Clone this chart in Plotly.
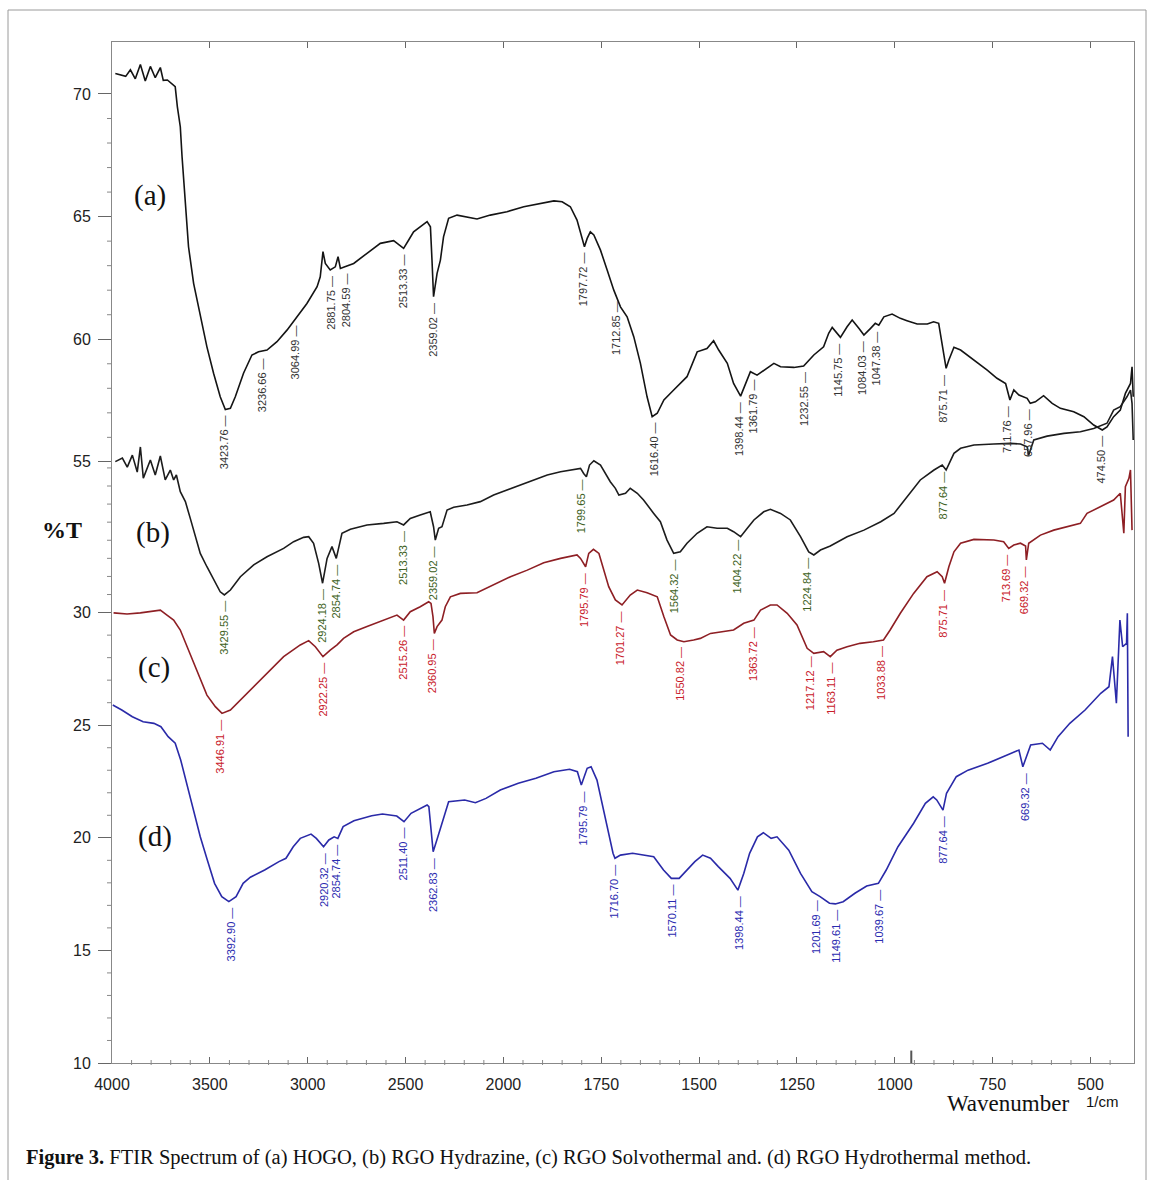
import numpy as np
import plotly.graph_objects as go

# ---------------- data (wavenumber in 1/cm, transmittance on the chart's stacked %T scale) ----
a_wn = [3983, 3930, 3906, 3881, 3855, 3830, 3804, 3779, 3753, 3738,
        3717, 3687, 3677, 3666, 3651, 3642, 3634, 3625, 3609, 3583,
        3549, 3515, 3481, 3447, 3421, 3395, 3370, 3328, 3285, 3251,
        3208, 3157, 3106, 3055, 3004, 2952, 2936, 2922, 2910, 2885,
        2859, 2845, 2833, 2817, 2765, 2697, 2629, 2561, 2527, 2510,
        2484, 2459, 2390, 2373, 2365, 2357, 2339, 2322, 2306, 2280,
        2237, 2186, 2135, 2067, 1991, 1948, 1905, 1871, 1850, 1829,
        1812, 1799, 1793, 1786, 1778, 1769, 1752, 1735, 1718, 1701,
        1684, 1667, 1650, 1633, 1620, 1607, 1590, 1565, 1548, 1531,
        1505, 1480, 1463, 1450, 1428, 1412, 1394, 1382, 1369, 1352,
        1326, 1309, 1292, 1258, 1233, 1207, 1182, 1169, 1160, 1139,
        1122, 1109, 1092, 1079, 1062, 1050, 1041, 1028, 1007, 986,
        969, 943, 917, 901, 888, 879, 869, 862, 849, 832,
        798, 764, 739, 717, 706, 696, 683, 662, 654, 641,
        620, 598, 577, 543, 517, 492, 470, 458, 441, 424,
        411, 398, 394, 391]
a_T = [53.79, 53.66, 53.95, 53.55, 54.18, 53.45, 54.10, 53.60, 54.05, 53.48,
       53.50, 53.27, 53.20, 52.31, 51.43, 50.10, 49.07, 47.89, 46.12, 44.50,
       43.02, 41.69, 40.52, 39.48, 38.92, 38.97, 39.48, 40.52, 41.33, 41.47,
       41.55, 41.92, 42.43, 43.02, 43.61, 44.35, 44.79, 45.90, 45.38, 45.09,
       45.23, 45.68, 45.16, 45.21, 45.38, 45.83, 46.27, 46.39, 46.19, 46.05,
       46.42, 46.78, 47.23, 47.00, 45.53, 43.91, 44.94, 45.53, 46.56, 47.38,
       47.52, 47.45, 47.35, 47.52, 47.67, 47.89, 48.04, 48.15, 48.11, 47.89,
       47.30, 46.42, 46.12, 46.49, 46.78, 46.64, 45.97, 45.09, 44.20, 43.46,
       43.02, 42.14, 40.96, 39.48, 38.60, 38.75, 39.34, 39.78, 40.07, 40.37,
       41.47, 41.62, 41.96, 41.55, 40.96, 40.07, 39.51, 40.07, 40.59, 40.44,
       40.74, 40.96, 40.81, 40.78, 40.84, 41.33, 41.69, 42.29, 42.55, 42.11,
       42.58, 42.88, 42.51, 42.21, 42.51, 42.73, 42.65, 43.02, 43.14, 42.95,
       42.85, 42.70, 42.70, 42.80, 42.73, 41.84, 40.74, 41.11, 41.67, 41.55,
       41.11, 40.66, 40.30, 40.07, 39.34, 39.78, 39.56, 39.41, 39.19, 39.26,
       39.53, 39.19, 38.97, 38.82, 38.60, 38.23, 38.01, 38.15, 38.60, 38.89,
       39.63, 40.07, 40.81, 39.48]

b_wn = [3983, 3947, 3922, 3896, 3871, 3855, 3840, 3804, 3779, 3753,
        3728, 3702, 3685, 3671, 3651, 3625, 3600, 3574, 3549, 3515,
        3481, 3447, 3426, 3395, 3344, 3276, 3208, 3123, 3072, 3021,
        2995, 2970, 2944, 2924, 2901, 2876, 2854, 2842, 2825, 2782,
        2697, 2612, 2544, 2510, 2476, 2425, 2374, 2357, 2348, 2331,
        2314, 2288, 2254, 2186, 2118, 2050, 1991, 1957, 1923, 1888,
        1854, 1820, 1803, 1795, 1788, 1780, 1769, 1752, 1740, 1727,
        1714, 1705, 1688, 1676, 1658, 1642, 1616, 1599, 1582, 1565,
        1548, 1531, 1505, 1480, 1454, 1428, 1412, 1394, 1377, 1360,
        1335, 1318, 1292, 1267, 1241, 1220, 1207, 1190, 1165, 1122,
        1079, 1036, 1002, 969, 935, 900, 879, 869, 858, 849,
        832, 798, 747, 705, 679, 662, 658, 645, 611, 568,
        526, 492, 458, 441, 424, 407, 398, 394, 391]
b_T = [36.61, 36.77, 36.37, 36.90, 36.15, 37.26, 35.88, 36.68, 36.02, 36.86,
       35.80, 36.24, 35.80, 36.02, 35.28, 34.84, 34.10, 33.29, 32.55, 31.96,
       31.37, 30.85, 30.71, 30.93, 31.52, 32.04, 32.40, 32.77, 33.07, 33.26,
       33.29, 33.00, 32.11, 31.23, 32.33, 32.85, 32.33, 32.85, 33.44, 33.62,
       33.81, 33.88, 33.95, 33.81, 34.10, 34.25, 34.39, 33.73, 33.14, 33.66,
       33.73, 34.47, 34.59, 34.69, 34.84, 35.13, 35.35, 35.58, 35.80, 36.02,
       36.16, 36.27, 36.31, 36.09, 35.94, 36.46, 36.65, 36.46, 36.09, 35.72,
       35.43, 35.13, 35.21, 35.43, 35.21, 34.91, 34.32, 33.95, 33.14, 32.55,
       32.62, 33.00, 33.44, 33.73, 33.66, 33.66, 33.51, 33.29, 33.66, 34.03,
       34.39, 34.50, 34.32, 34.03, 33.29, 32.62, 32.48, 32.70, 32.88, 33.29,
       33.58, 33.95, 34.32, 35.06, 35.80, 36.24, 36.46, 36.24, 36.61, 36.98,
       37.20, 37.35, 37.39, 37.42, 37.39, 37.27, 36.90, 37.57, 37.74, 37.86,
       37.93, 38.08, 38.31, 38.89, 39.04, 39.48, 39.78, 39.19, 37.57]

c_wn = [3992, 3923, 3855, 3770, 3753, 3719, 3685, 3651, 3617, 3583,
        3549, 3515, 3472, 3438, 3395, 3344, 3276, 3208, 3123, 3038,
        2995, 2961, 2922, 2885, 2850, 2817, 2765, 2697, 2612, 2544,
        2510, 2476, 2425, 2382, 2370, 2360, 2353, 2339, 2314, 2297,
        2271, 2220, 2135, 2050, 1982, 1939, 1897, 1854, 1812, 1803,
        1790, 1782, 1770, 1756, 1744, 1731, 1714, 1697, 1676, 1658,
        1633, 1607, 1590, 1573, 1556, 1539, 1514, 1497, 1471, 1446,
        1412, 1386, 1360, 1343, 1318, 1301, 1275, 1250, 1224, 1207,
        1182, 1165, 1148, 1122, 1089, 1055, 1029, 1012, 986, 952,
        918, 892, 879, 873, 862, 849, 832, 798, 747, 722,
        709, 696, 679, 666, 664, 658, 628, 594, 560, 526,
        509, 483, 458, 441, 424, 415, 411, 402, 398, 394]
c_T = [29.92, 29.87, 29.92, 30.01, 30.04, 29.82, 29.60, 29.16, 28.42, 27.69,
       26.95, 26.28, 25.77, 25.47, 25.62, 26.06, 26.65, 27.24, 27.98, 28.50,
       28.69, 28.42, 27.98, 28.27, 28.50, 28.79, 29.08, 29.31, 29.60, 29.82,
       29.60, 29.97, 30.19, 30.41, 30.34, 29.75, 29.01, 29.31, 29.60, 30.19,
       30.63, 30.78, 30.81, 31.15, 31.52, 31.81, 32.14, 32.33, 32.48, 32.33,
       31.96, 32.55, 32.73, 32.55, 31.81, 31.08, 30.49, 30.27, 30.71, 30.93,
       30.81, 30.63, 29.75, 28.94, 28.72, 28.64, 28.72, 28.79, 29.01, 29.08,
       29.16, 29.46, 29.60, 30.04, 30.27, 30.27, 29.90, 29.38, 28.35, 28.13,
       28.20, 27.98, 28.27, 28.42, 28.57, 28.64, 28.72, 29.16, 29.90, 30.78,
       31.52, 31.74, 31.52, 31.23, 31.96, 32.62, 33.00, 33.17, 33.14, 33.07,
       32.77, 32.92, 33.00, 32.88, 32.26, 33.00, 33.36, 33.58, 33.73, 33.88,
       34.32, 34.54, 34.77, 34.91, 35.21, 33.44, 35.50, 35.87, 36.24, 33.58]

d_wn = [3996, 3950, 3896, 3841, 3786, 3750, 3713, 3677, 3649, 3622,
        3585, 3549, 3513, 3476, 3439, 3403, 3366, 3330, 3293, 3220,
        3147, 3111, 3074, 3038, 2983, 2956, 2919, 2892, 2865, 2846,
        2819, 2764, 2673, 2618, 2545, 2508, 2472, 2390, 2381, 2371,
        2359, 2335, 2308, 2280, 2198, 2143, 2089, 2016, 1962, 1917,
        1871, 1831, 1811, 1801, 1786, 1776, 1761, 1746, 1731, 1720,
        1715, 1701, 1670, 1640, 1616, 1591, 1571, 1551, 1531, 1511,
        1491, 1471, 1451, 1421, 1401, 1386, 1371, 1351, 1336, 1316,
        1301, 1271, 1241, 1212, 1191, 1167, 1152, 1132, 1102, 1072,
        1042, 1022, 992, 952, 922, 902, 893, 877, 868, 843,
        813, 763, 713, 683, 673, 653, 623, 603, 583, 553,
        514, 474, 453, 444, 434, 425, 418, 408, 406, 404]
d_T = [25.84, 25.62, 25.32, 25.10, 25.03, 24.88, 24.44, 24.15, 23.41, 22.52,
       21.19, 20.01, 18.98, 17.95, 17.36, 17.14, 17.36, 17.95, 18.22, 18.54,
       18.91, 19.06, 19.57, 19.94, 20.13, 19.94, 19.57, 19.87, 20.01, 19.94,
       20.46, 20.72, 20.94, 21.02, 20.93, 20.68, 21.05, 21.42, 21.34, 20.31,
       19.35, 20.01, 20.75, 21.56, 21.64, 21.52, 21.71, 22.08, 22.38, 22.60,
       22.89, 23.00, 22.89, 22.30, 23.04, 23.11, 22.52, 21.34, 20.16, 19.28,
       19.06, 19.20, 19.28, 19.20, 19.13, 18.54, 18.17, 18.17, 18.54, 18.91,
       19.20, 19.06, 18.69, 18.17, 17.65, 18.39, 19.28, 20.01, 20.19, 19.94,
       20.01, 19.42, 18.39, 17.58, 17.36, 17.07, 17.04, 17.14, 17.51, 17.83,
       17.95, 18.54, 19.57, 20.61, 21.49, 21.78, 21.64, 21.19, 21.93, 22.67,
       22.96, 23.26, 23.63, 23.85, 23.11, 24.07, 24.15, 23.85, 24.44, 25.03,
       25.62, 26.36, 26.65, 27.98, 25.92, 29.60, 28.42, 28.57, 29.90, 24.44]

# peak labels (wavenumbers)
a_peaks = [3423.76, 3236.66, 3064.99, 2881.75, 2804.59, 2513.33, 2359.02, 1797.72, 1712.85,
           1616.40, 1398.44, 1361.79, 1232.55, 1145.75, 1084.03, 1047.38, 875.71, 711.76,
           657.96, 474.50]
b_peaks = [3429.55, 2924.18, 2854.74, 2513.33, 2359.02, 1799.65, 1564.32, 1404.22, 1224.84, 877.64]
c_peaks = [3446.91, 2922.25, 2515.26, 2360.95, 1795.79, 1701.27, 1550.82, 1363.72, 1217.12,
           1163.11, 1033.88, 875.71, 713.69, 669.32]
d_peaks = [3392.90, 2920.32, 2854.74, 2511.40, 2362.83, 1795.79, 1716.70, 1570.11, 1398.44,
           1201.69, 1149.61, 1039.67, 877.64, 669.32]

series_names = ["(a)", "(b)", "(c)", "(d)"]

# axis tick labels
x_tick_labels = [4000, 3500, 3000, 2500, 2000, 1750, 1500, 1250, 1000, 750, 500]
y_tick_labels = [70, 65, 60, 55, 30, 25, 20, 15, 10]

for w, t in [(a_wn, a_T), (b_wn, b_T), (c_wn, c_T), (d_wn, d_T)]:
    assert len(w) == len(t)

# ---------------- scales ----------------
def xa(wn):
    """Instrument axis: linear to 2000 1/cm, expanded x2 below 2000."""
    wn = np.asarray(wn, dtype=float)
    return np.where(wn >= 2000, wn, 2000 - 2 * (2000 - wn))

# tick-label -> axis position (the stacked %T axis has a compressed 30..55 band)
Y_LBL = [10, 30, 55, 70]
Y_POS = [10.0, 29.93, 36.6, 52.88]
def ypos(v):
    return np.interp(v, Y_LBL, Y_POS)

y_minor_lbl = ([v for v in range(11, 30) if v % 5] + [33, 36, 39, 42, 45, 48, 51, 54]
               + [v for v in range(56, 71) if v % 5])
x_minor_wn = ([w for w in range(3900, 2000, -100) if w % 500]
              + [w for w in range(1950, 400, -50) if w % 250])

SANS = "Liberation Sans, Arial, sans-serif"
SERIF = "Liberation Serif, Times New Roman, serif"
NARROW = "Liberation Sans Narrow, Arial Narrow, Liberation Sans, sans-serif"

curves = [
    (a_wn, a_T, a_peaks, "#141414", "#333333"),
    (b_wn, b_T, b_peaks, "#1c1c1c", "#3d5f22"),
    (c_wn, c_T, c_peaks, "#8e1f24", "#c8202a"),
    (d_wn, d_T, d_peaks, "#2a2aa8", "#2b2bb0"),
]

fig = go.Figure()
annotations = []
for (wn, T, peaks, lc, tc), name in zip(curves, series_names):
    X = xa(wn)
    fig.add_trace(go.Scatter(x=X, y=T, mode="lines", name=name,
                             line=dict(color=lc, width=1.6), hoverinfo="skip"))
    Xs = X[::-1]
    Ts = np.asarray(T, float)[::-1]
    for p in peaks:
        px = float(xa(p))
        mask = np.abs(X - px) <= 16
        yv = float(np.interp(px, Xs, Ts))
        if mask.any():
            yv = min(yv, float(np.asarray(T)[mask].min()))
        annotations.append(dict(
            x=px, y=yv, xref="x", yref="y", text=f"{p:.2f} \u2014",
            textangle=-90, showarrow=False, xanchor="center", yanchor="top",
            yshift=-4, font=dict(family=NARROW, size=11, color=tc)))

# curve letters
letter_pos = [(0.037, 0.850), (0.040, 0.520), (0.041, 0.387), (0.042, 0.222)]
for name, (px, py) in zip(series_names, letter_pos):
    annotations.append(dict(x=px, y=py, xref="paper", yref="paper", text=name,
                            showarrow=False, xanchor="center", yanchor="middle",
                            font=dict(family=SERIF, size=29, color="#111")))

annotations += [
    dict(x=-0.049, y=0.522, xref="paper", yref="paper", text="<b>%T</b>", showarrow=False,
         xanchor="center", yanchor="middle", font=dict(family=SERIF, size=24, color="#111")),
    dict(x=0.8767, y=-0.040, xref="paper", yref="paper", text="Wavenumber", showarrow=False,
         xanchor="center", yanchor="middle", font=dict(family=SERIF, size=23, color="#111")),
    dict(x=0.9687, y=-0.038, xref="paper", yref="paper", text="1/cm", showarrow=False,
         xanchor="center", yanchor="middle", font=dict(family=SANS, size=15, color="#111")),
    dict(x=-0.0861, y=-0.0925, xref="paper", yref="paper",
         text="<b>Figure 3.</b> FTIR Spectrum of (a) HOGO, (b) RGO Hydrazine, (c) RGO Solvothermal and. (d) RGO Hydrothermal method.",
         showarrow=False, xanchor="left", yanchor="middle",
         font=dict(family=SERIF, size=20.5, color="#111")),
]

PW, PH = 1022.0, 1021.0  # plot area size in px (for tick-mark lengths)
shapes = [
    # outer figure frame
    dict(type="rect", xref="paper", yref="paper", x0=(8 - 112) / PW, x1=(1146 - 112) / PW,
         y0=(1063 - 1190) / PH, y1=(1063 - 10) / PH, line=dict(color="#9a9a9a", width=1)),
    # instrument cursor mark near 1000 1/cm
    dict(type="line", xref="x", yref="y", x0=float(xa(958)), x1=float(xa(958)), y0=9.45, y1=10.55,
         line=dict(color="#555", width=2)),
]
# minor tick marks (y: outside, x: small marks across the axis line)
for yv in ypos(y_minor_lbl):
    shapes.append(dict(type="line", xref="paper", yref="y", x0=-5 / PW, x1=0, y0=float(yv), y1=float(yv),
                       line=dict(color="#888", width=1)))
for xv in xa(x_minor_wn):
    shapes.append(dict(type="line", xref="x", yref="paper", x0=float(xv), x1=float(xv),
                       y0=-2 / PH, y1=3 / PH, line=dict(color="#888", width=1)))

fig.update_layout(
    width=1153, height=1180,
    margin=dict(l=112, r=19, t=42, b=117),
    plot_bgcolor="white", paper_bgcolor="white",
    showlegend=False,
    annotations=annotations, shapes=shapes,
    xaxis=dict(
        range=[4000, float(xa(389))],
        tickmode="array", tickvals=xa(x_tick_labels).tolist(),
        ticktext=[str(v) for v in x_tick_labels],
        ticks="inside", ticklen=6, tickcolor="#666", tickwidth=1,
        showline=True, linecolor="#888", linewidth=1, mirror="ticks",
        showgrid=False, zeroline=False, ticklabelstandoff=7,
        tickfont=dict(family=SANS, size=16, color="#222"),
    ),
    yaxis=dict(
        range=[10, 55.18],
        tickmode="array", tickvals=ypos(y_tick_labels).tolist(),
        ticktext=[str(v) for v in y_tick_labels],
        ticks="outside", ticklen=13, tickcolor="#666", tickwidth=1,
        showline=True, linecolor="#888", linewidth=1, mirror=True,
        showgrid=False, zeroline=False, ticklabelstandoff=4,
        tickfont=dict(family=SANS, size=16, color="#222"),
    ),
)

fig.write_html("out.html")
